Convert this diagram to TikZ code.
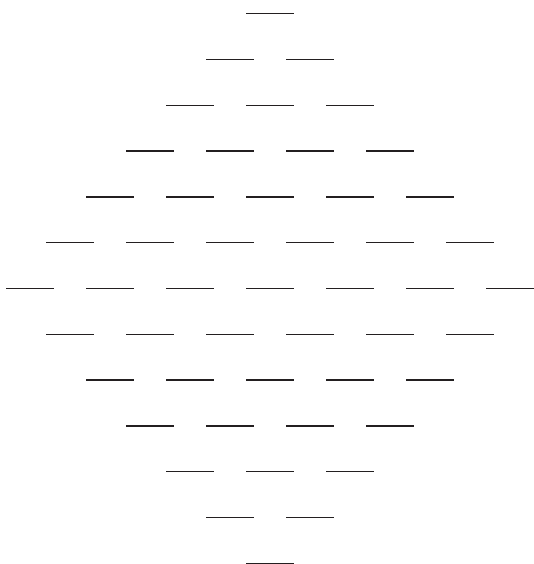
\documentclass[tikz,border=0pt]{standalone}
\definecolor{segcol}{RGB}{35,31,32}
\tikzset{seg/.style={draw=segcol,line width=1.5pt}}
\begin{document}
\begin{tikzpicture}[x=1pt,y=-1pt]
\useasboundingbox (0,0) rectangle (533,564);
\foreach \r in {0,...,12}{
  \pgfmathtruncatemacro{\n}{7-abs(\r-6)}
  \pgfmathsetmacro{\yy}{13.7+45.8*\r}
  \foreach \k in {1,...,\n}{
    \pgfmathsetmacro{\cx}{270-(\n-1)*40+(\k-1)*80}
    \draw[seg] (\cx-24,\yy) -- (\cx+24,\yy);
  }
}
\end{tikzpicture}
\end{document}
